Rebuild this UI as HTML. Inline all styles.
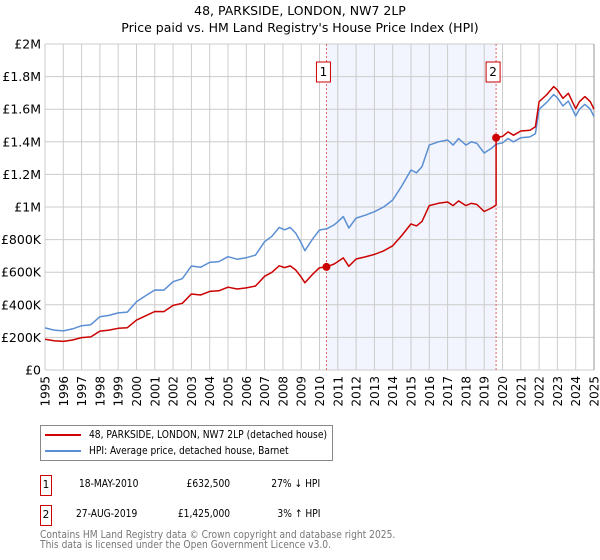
<!DOCTYPE html>
<html><head><meta charset="utf-8">
<style>
body{margin:0;background:#fff;font-family:"DejaVu Sans","Liberation Sans",sans-serif;}
#wrap{position:relative;width:600px;height:560px;overflow:hidden;}
svg{position:absolute;left:0;top:0;}
svg text{font-family:"DejaVu Sans","Liberation Sans",sans-serif;}
.sq{display:inline-block;transform:scaleX(0.87);transform-origin:left center;white-space:nowrap;}
.sqr{display:inline-block;transform:scaleX(0.87);transform-origin:right center;white-space:nowrap;}
</style></head>
<body>
<div id="wrap">
<svg id="c" width="600" height="560"></svg>
</div>
<script>
const hpiYears=[1995,1995.5,1996,1996.5,1997,1997.5,1998,1998.5,1999,1999.5,2000,2000.5,2001,2001.5,2002,2002.5,2003,2003.5,2004,2004.5,2005,2005.5,2006,2006.5,2007,2007.4,2007.8,2008.1,2008.4,2008.7,2009,2009.2,2009.6,2010,2010.4,2010.8,2011,2011.3,2011.6,2012,2012.5,2013,2013.5,2014,2014.5,2015,2015.3,2015.6,2016,2016.5,2017,2017.3,2017.6,2018,2018.3,2018.6,2019,2019.4,2019.65,2020,2020.3,2020.6,2021,2021.5,2021.8,2022,2022.4,2022.8,2023,2023.3,2023.6,2024,2024.2,2024.5,2024.8,2025];
const hpiValues=[258,245,240,252,272,278,327,335,350,355,419,455,491,490,542,560,638,630,660,665,695,680,689,705,787,820,875,860,874,840,780,732,800,859,866,890,910,941,871,932,950,971,1000,1043,1130,1227,1210,1248,1380,1400,1411,1380,1420,1380,1400,1390,1331,1360,1385,1393,1420,1400,1425,1430,1450,1600,1640,1690,1670,1620,1650,1558,1600,1630,1600,1555];
const saleYears=[2010.38,2019.65];
const saleValues=[632.5,1425];
const saleLabels=["1","2"];
const yTicks=[0,200,400,600,800,1000,1200,1400,1600,1800,2000];
const yTickLabels=["£0","£200K","£400K","£600K","£800K","£1M","£1.2M","£1.4M","£1.6M","£1.8M","£2M"];
const xTicks=[1995,1996,1997,1998,1999,2000,2001,2002,2003,2004,2005,2006,2007,2008,2009,2010,2011,2012,2013,2014,2015,2016,2017,2018,2019,2020,2021,2022,2023,2024,2025];

const NS="http://www.w3.org/2000/svg";
const svg=document.getElementById('c');
const X0=45,X1=594,Y0=370,Y1=44;
function xs(t){return X0+(t-1995)/30*(X1-X0);}
function ys(v){return Y0-v/2000*(Y0-Y1);}
function el(tag,attrs,parent){const e=document.createElementNS(NS,tag);for(const k in attrs)e.setAttribute(k,attrs[k]);(parent||svg).appendChild(e);return e;}
function interp(t){for(let i=0;i<hpiYears.length-1;i++){if(t>=hpiYears[i]&&t<=hpiYears[i+1]){const f=(t-hpiYears[i])/(hpiYears[i+1]-hpiYears[i]);return hpiValues[i]+f*(hpiValues[i+1]-hpiValues[i]);}}return hpiValues[hpiValues.length-1];}

let t=el('text',{x:300,y:15,'text-anchor':'middle','font-size':12.5,fill:'#000'});t.textContent='48, PARKSIDE, LONDON, NW7 2LP';

t=el('text',{x:300,y:32,'text-anchor':'middle','font-size':12.5,fill:'#000'});t.textContent="Price paid vs. HM Land Registry's House Price Index (HPI)";


let sh=el('rect',{x:xs(saleYears[0]),y:Y1,width:xs(saleYears[1])-xs(saleYears[0]),height:Y0-Y1,fill:'#f2f5fd'});


yTicks.forEach((v,i)=>{
  const g=el('line',{x1:X0,x2:X1,y1:ys(v),y2:ys(v),stroke:'#cccccc','stroke-width':1});
  
  const lb=el('text',{x:X0-4,y:ys(v)+4.5,'text-anchor':'end','font-size':12.5,fill:'#000'});lb.textContent=yTickLabels[i];
  
});
xTicks.forEach(yr=>{
  const g=el('line',{x1:xs(yr),x2:xs(yr),y1:Y1,y2:Y0,stroke:'#cccccc','stroke-width':1});
  
  const lb=el('text',{x:0,y:0,'text-anchor':'end','font-size':12,fill:'#000',transform:'translate('+(xs(yr)+4.5)+',376) rotate(-90)'});lb.textContent=String(yr);
  
});
let rb=el('line',{x1:X1,x2:X1,y1:Y1,y2:Y0,stroke:'#999',"stroke-width":1});


saleYears.forEach((sy,i)=>{
  const l=el('line',{x1:xs(sy),x2:xs(sy),y1:Y1,y2:Y0,stroke:'#e06060','stroke-width':1,'stroke-dasharray':'2,2'});
  
  const b=el('rect',{x:xs(sy)-10,y:62,width:14,height:20,fill:'#fff',stroke:'#cc0000','stroke-width':1});
  
  const tt=el('text',{x:xs(sy)-3,y:76,'text-anchor':'middle','font-size':12,fill:'#000'});tt.textContent=saleLabels[i];
  
});

let d='';hpiYears.forEach((yr,i)=>{d+=(i?'L':'M')+xs(yr).toFixed(1)+','+ys(hpiValues[i]).toFixed(1);});
let hl=el('path',{d:d,fill:'none',stroke:'#5b8fd4','stroke-width':1.5,'stroke-linejoin':'round'});


const r0=saleValues[0]/interp(saleYears[0]);
const r1=saleValues[1]/interp(saleYears[1]);
let pd='';let first=true;
hpiYears.forEach((yr,i)=>{
  if(yr>=saleYears[1])return;
  pd+=(first?'M':'L')+xs(yr).toFixed(1)+','+ys(hpiValues[i]*r0).toFixed(1);first=false;
});
pd+='L'+xs(saleYears[1]).toFixed(1)+','+ys(interp(saleYears[1])*r0).toFixed(1);
pd+='L'+xs(saleYears[1]).toFixed(1)+','+ys(saleValues[1]).toFixed(1);
hpiYears.forEach((yr,i)=>{if(yr>saleYears[1])pd+='L'+xs(yr).toFixed(1)+','+ys(hpiValues[i]*r1).toFixed(1);});
let pl=el('path',{d:pd,fill:'none',stroke:'#cc0000','stroke-width':1.5,'stroke-linejoin':'round'});


saleYears.forEach((sy,i)=>{
  const c=el('circle',{cx:xs(sy),cy:ys(saleValues[i]),r:4,fill:'#cc0000'});
  
});
</script>

<div style="position:absolute;left:40px;top:425px;width:291px;height:34px;border:1px solid #888;font-size:10.5px;">
  <div style="position:absolute;left:4px;top:3px;white-space:nowrap;"><span style="display:inline-block;width:36px;height:2px;background:#cc0000;vertical-align:middle;margin-right:8px;"></span><span class="sq">48, PARKSIDE, LONDON, NW7 2LP (detached house)</span></div>
  <div style="position:absolute;left:4px;top:19px;white-space:nowrap;"><span style="display:inline-block;width:36px;height:2px;background:#5b8fd4;vertical-align:middle;margin-right:8px;"></span><span class="sq">HPI: Average price, detached house, Barnet</span></div>
</div>

<div style="position:absolute;left:0;top:475px;width:600px;height:20px;font-size:10.5px;">
  <div style="position:absolute;left:40px;top:0;width:10px;height:19px;border:1px solid #cc0000;text-align:center;line-height:19px;">1</div>
  <div style="position:absolute;left:79px;top:3px;"><span class="sq">18-MAY-2010</span></div>
  <div style="position:absolute;left:150px;top:3px;width:80px;text-align:right;"><span class="sqr">£632,500</span></div>
  <div style="position:absolute;left:240px;top:3px;width:80px;text-align:right;"><span class="sqr">27% ↓ HPI</span></div>
</div>
<div style="position:absolute;left:0;top:505px;width:600px;height:20px;font-size:10.5px;">
  <div style="position:absolute;left:40px;top:0;width:10px;height:19px;border:1px solid #cc0000;text-align:center;line-height:19px;">2</div>
  <div style="position:absolute;left:76px;top:3px;"><span class="sq">27-AUG-2019</span></div>
  <div style="position:absolute;left:150px;top:3px;width:80px;text-align:right;"><span class="sqr">£1,425,000</span></div>
  <div style="position:absolute;left:240px;top:3px;width:80px;text-align:right;"><span class="sqr">3% ↑ HPI</span></div>
</div>
<div style="position:absolute;left:40px;top:530px;font-size:10.5px;color:#777;line-height:10px;white-space:nowrap;transform:scaleX(0.87);transform-origin:left top;">Contains HM Land Registry data © Crown copyright and database right 2025.<br>This data is licensed under the Open Government Licence v3.0.</div>
</body></html>
